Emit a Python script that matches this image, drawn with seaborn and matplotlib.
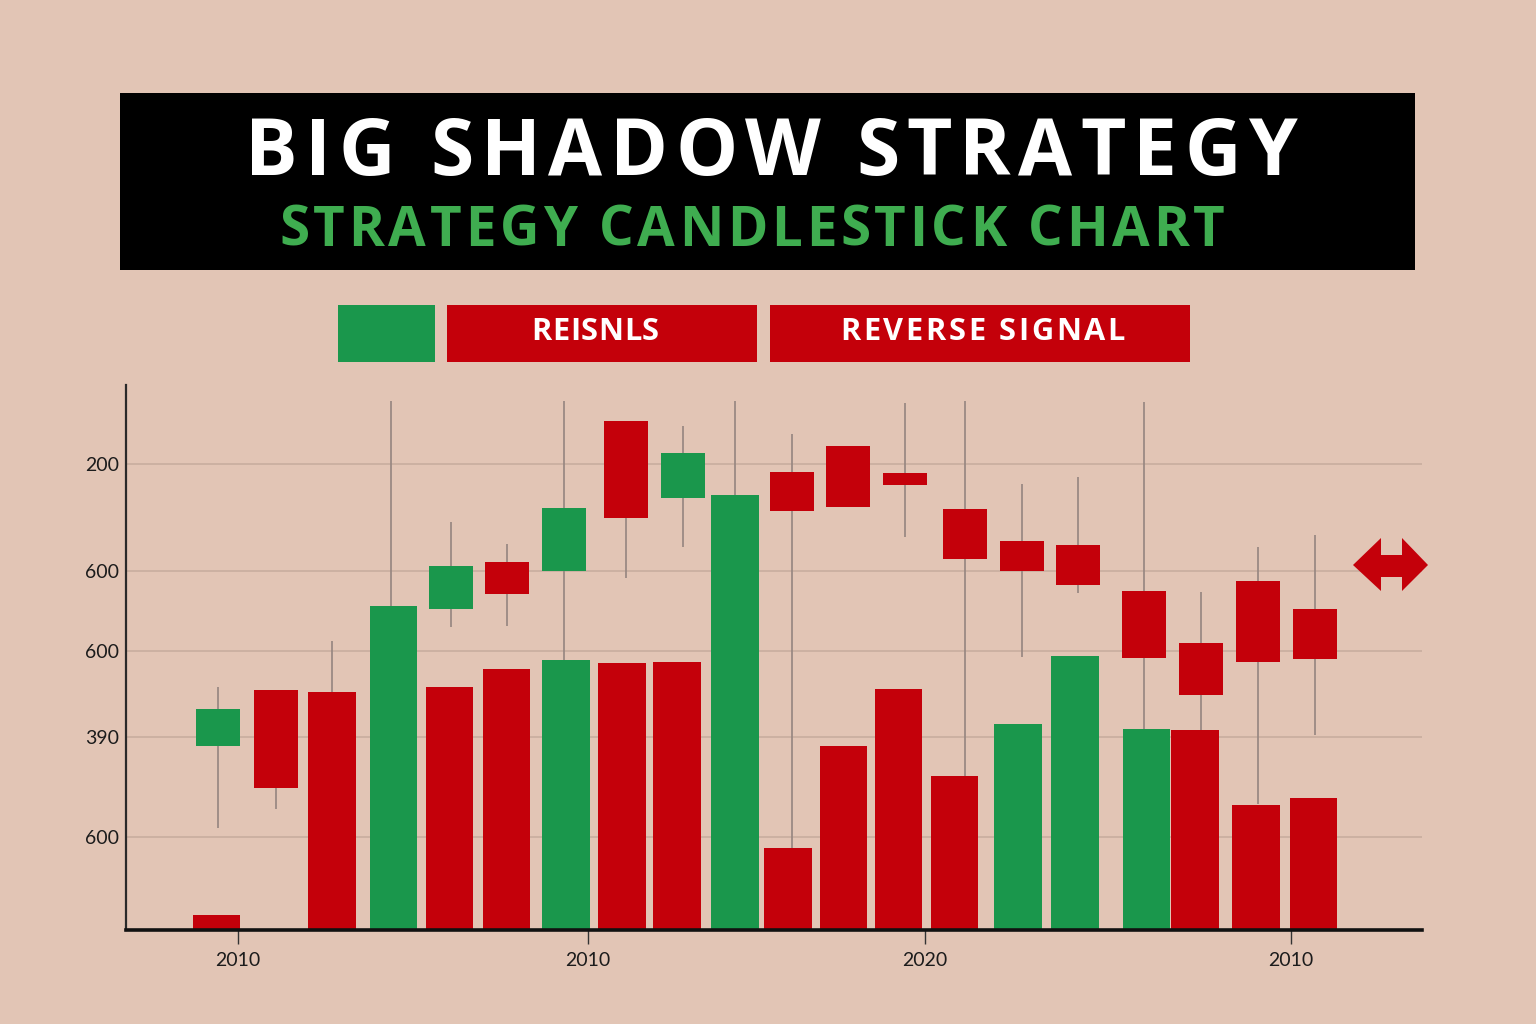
import numpy as np
import pandas as pd
import matplotlib
matplotlib.use("Agg")
import matplotlib.pyplot as plt
from matplotlib.patches import Rectangle, Polygon
import seaborn as sns

# ---------------- data ----------------
# tall "volume" bars
bar_pos = [1.571, 3.576, 4.644, 5.616, 6.606, 7.639, 8.611, 9.566, 10.573, 11.493,
           12.457, 13.411, 14.384, 15.486, 16.476, 17.717, 18.559, 19.618, 20.616]
bar_height = [15, 238, 324, 243, 261, 270, 267, 268, 435, 82,
              184, 241, 154, 206, 274, 201, 200, 125, 132]
bar_dir = ["down", "down", "up", "down", "down", "up", "down", "down", "up", "down",
           "down", "down", "down", "up", "up", "up", "down", "down", "down"]

# floating candlesticks
candle_pos = [1.597, 2.604, 5.642, 6.615, 7.604, 8.681, 9.670, 11.563, 12.535, 13.524,
              14.566, 15.556, 16.528, 17.674, 18.663, 19.653, 20.642]
candle_open = [184, 240, 321, 368, 359, 509, 432, 458, 484, 457.5,
               421, 389, 385, 339, 287, 349.5, 321.5]
candle_close = [221, 142, 364, 336, 422.5, 412.5, 477.5, 419, 423, 445,
                371, 359, 345, 272, 235, 268, 271]
candle_high = [243, 240, 408, 386, 529, 509, 504, 496, 484, 527,
               529, 446, 453, 528, 338, 383, 395]
candle_low = [102, 121, 303, 304, 270, 352, 383, 82, 423, 393,
              154, 273, 337, 201, 200, 126, 195]

# shadows rising from the tall bars
shadow_pos = [3.576, 4.601, 10.573]
shadow_low = [238, 324, 435]
shadow_high = [289, 529, 529]

ytick_vals = [466, 359, 279, 193, 93]
ytick_labels = ["200", "600", "600", "390", "600"]
xtick_vals = [1.944, 8.021, 13.872, 20.226]
xtick_labels = ["2010", "2010", "2020", "2010"]

title = "BIG SHADOW STRATEGY"
subtitle = "STRATEGY CANDLESTICK CHART"
legend_labels = ["REISNLS", "REVERSE SIGNAL"]

# ---------------- style ----------------
BG = "#e2c5b5"
RED = "#c4000a"
GREEN = "#1a974c"
WICK = "#958580"
GRID = "#c6ab9d"

sns.set_theme(style="white")
plt.rcParams["font.family"] = ["Lato", "DejaVu Sans"]

bars = pd.DataFrame({"pos": bar_pos, "height": bar_height, "dir": bar_dir})
candles = pd.DataFrame({"pos": candle_pos, "open": candle_open, "close": candle_close,
                        "high": candle_high, "low": candle_low})
candles["dir"] = np.where(candles["close"] >= candles["open"], "up", "down")
colors = {"up": GREEN, "down": RED}

W, H = 1536, 1024
fig = plt.figure(figsize=(15.36, 10.24), dpi=100, facecolor=BG)
ax = fig.add_axes([126 / W, 1 - 930 / H, (1422 - 126) / W, (930 - 385) / H])
ax.set_facecolor(BG)
ax.set_xlim(0, 22.5)
ax.set_ylim(0, 545)

# grid
for v in ytick_vals:
    ax.axhline(v, color=GRID, lw=1.1, zorder=0)

# wicks
ax.vlines(candles["pos"], candles["low"], candles["high"], color=WICK, lw=1.2, zorder=1)
ax.vlines(shadow_pos, shadow_low, shadow_high, color=WICK, lw=1.2, zorder=1)

# tall bars
ax.bar(bars["pos"], bars["height"], width=0.82,
       color=[colors[d] for d in bars["dir"]], zorder=2, linewidth=0)

# candle bodies
body_low = np.minimum(candles["open"], candles["close"])
body_h = np.abs(candles["close"] - candles["open"])
ax.bar(candles["pos"], body_h, bottom=body_low, width=0.76,
       color=[colors[d] for d in candles["dir"]], zorder=3, linewidth=0)

# axes styling
for s in ["top", "right"]:
    ax.spines[s].set_visible(False)
ax.spines["left"].set_color("#2a2a2a")
ax.spines["left"].set_linewidth(1.6)
ax.spines["bottom"].set_color("#111111")
ax.spines["bottom"].set_linewidth(2.6)
ax.set_yticks(ytick_vals)
ax.set_yticklabels(ytick_labels)
ax.set_xticks(xtick_vals)
ax.set_xticklabels(xtick_labels)
ax.tick_params(axis="y", length=0, pad=5, labelsize=14, labelcolor="#1c1c1c")
ax.tick_params(axis="x", length=10, width=1.0, color="#333333", direction="out",
               pad=6, labelsize=14, labelcolor="#1c1c1c", bottom=True)
ax.set_xlabel("")
ax.set_ylabel("")

# ---------------- title banner ----------------
fig.patches.append(Rectangle((120 / W, 1 - 270 / H), (1415 - 120) / W, 177 / H,
                             transform=fig.transFigure, facecolor="black", edgecolor="none", zorder=0))

# legend strip
fig.patches.append(Rectangle((338 / W, 1 - 362 / H), 97 / W, 57 / H,
                             transform=fig.transFigure, facecolor=GREEN, edgecolor="none"))
fig.patches.append(Rectangle((447 / W, 1 - 362 / H), 310 / W, 57 / H,
                             transform=fig.transFigure, facecolor=RED, edgecolor="none"))
fig.patches.append(Rectangle((770 / W, 1 - 362 / H), 420 / W, 57 / H,
                             transform=fig.transFigure, facecolor=RED, edgecolor="none"))

# double arrow on the right
pts = [(1353, 565), (1381, 538), (1381, 555), (1402, 555), (1402, 538), (1428, 565),
       (1402, 591), (1402, 577), (1381, 577), (1381, 591)]
fig.patches.append(Polygon([(x / W, 1 - y / H) for x, y in pts], closed=True,
                           transform=fig.transFigure, facecolor=RED, edgecolor="none"))

renderer = fig.canvas.get_renderer()
TFONT = ["Open Sans", "DejaVu Sans"]


def measure(txt, size, weight):
    t = fig.text(0, 0, txt, fontsize=size, fontweight=weight, family=TFONT)
    w = t.get_window_extent(renderer).width
    t.remove()
    return w


def tracked(s, x_left, x_right, baseline, cap_px, color, weight):
    size = cap_px / 0.714 * 72 / 100  # px -> pt
    space_w = measure("H H", size, weight) - measure("HH", size, weight)
    widths = [space_w if c == " " else measure(c, size, weight) for c in s]
    target = x_right - x_left
    track = (target - sum(widths)) / (len(s) - 1)
    x = x_left
    for c, w in zip(s, widths):
        if c != " ":
            fig.text(x / W, 1 - baseline / H, c, fontsize=size, fontweight=weight,
                     family=TFONT, color=color, ha="left", va="baseline")
        x += w + track


tracked(title, 245, 1297, 175, 56, "white", "bold")
tracked(subtitle, 279, 1225, 246, 39, "#3fad50", "bold")
tracked(legend_labels[0], 531, 659, 340, 22, "white", "bold")
tracked(legend_labels[1], 840, 1125, 340, 22, "white", "bold")

fig.savefig("out.png", dpi=100, facecolor=BG)
